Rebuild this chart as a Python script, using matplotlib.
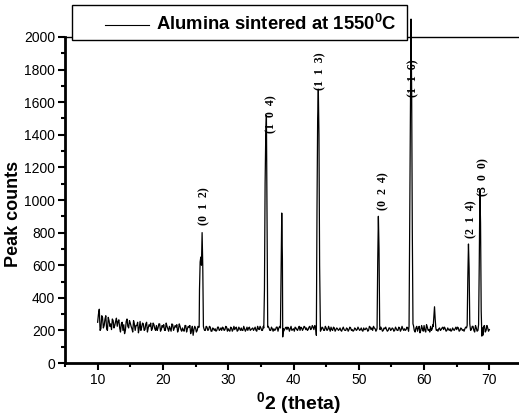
"""
XRD pattern of alumina sintered at 1550 C, redrawn from the published figure.
"""
import numpy as np
import matplotlib
matplotlib.use("Agg")
import matplotlib.pyplot as plt
from matplotlib.lines import Line2D
from matplotlib.patches import Rectangle
from matplotlib.ticker import MultipleLocator

plt.rcParams["font.family"] = ["Liberation Sans", "DejaVu Sans"]
plt.rcParams["mathtext.fontset"] = "custom"
plt.rcParams["mathtext.rm"] = "Liberation Sans"
plt.rcParams["mathtext.bf"] = "Liberation Sans:bold"

# Background counts, read every 0.25 degree from 10 to 70 (2 theta)
bg_start, bg_step = 10.0, 0.25
bg_counts = [
    250, 330, 210, 280,  230, 290, 200, 260,  240, 270, 215, 255,
    225, 265, 190, 250,  235, 200, 270, 215,  245, 210, 260, 200,
    230, 185, 255, 220,  240, 205, 250, 215,  225, 200, 245, 210,
    230, 215, 240, 205,  220, 200, 245, 210,  225, 195, 235, 215,
    220, 190, 240, 205,  215, 195, 230, 210,  220, 180, 225, 205,
    215, 200, 220, 230,  230, 215, 200, 220,  205, 220, 195, 210,
    210, 200, 220, 205,  200, 215, 205, 220,  210, 195, 215, 205,
    205, 220, 200, 210,  215, 200, 210, 205,  200, 220, 205, 215,
    210, 200, 225, 205,  215, 200, 220, 210,  205, 215, 200, 210,
    210, 205, 220, 215,  225, 210, 195, 215,  205, 215, 210, 200,
    210, 220, 205, 215,  200, 215, 210, 220,  215, 205, 225, 210,
    220, 230, 215, 205,  210, 205, 215, 200,  215, 205, 210, 220,
    200, 215, 205, 210,  205, 200, 210, 205,  200, 210, 205, 215,
    205, 200, 210, 205,  210, 205, 200, 215,  205, 210, 200, 220,
    215, 225, 210, 205,  215, 205, 210, 200,  210, 205, 200, 215,
    205, 210, 200, 210,  200, 215, 205, 210,  210, 205, 215, 220,
    220, 210, 200, 215,  195, 225, 200, 210,  230, 190, 220, 205,
    225, 210, 215, 220,  205, 210, 200, 215,  205, 210, 200, 205,
    210, 200, 205, 210,  205, 215, 200, 210,  205, 210, 215, 220,
    215, 205, 225, 190,  215, 200, 210, 220,  170, 230, 200, 215,
    205,
]
# counts half way between those points (10.125, 10.375, ...)
bg_counts_mid = [
    300, 200, 290, 215,  270, 210, 280, 225,  205, 260, 230, 275,
    255, 215, 240, 200,  180, 255, 225, 260,  225, 190, 240, 230,
    250, 215, 200, 245,  200, 240, 190, 235,  245, 210, 235, 200,
    200, 240, 195, 230,  235, 200, 225, 195,  210, 240, 200, 230,
    235, 205, 225, 195,  200, 230, 190, 225,  230, 200, 170, 225,
    190, 225, 215, 200,  215, 200, 225, 200,  225, 195, 215, 200,
    195, 220, 200, 215,  220, 200, 225, 195,  200, 220, 195, 225,
    215, 195, 220, 200,  200, 225, 195, 220,  215, 200, 210, 200,
    220, 195, 210, 225,  200, 225, 205, 220,  225, 200, 220, 195,
    200, 220, 195, 225,  200, 230, 205, 220,  220, 195, 225, 205,
    195, 215, 200, 225,  220, 200, 225, 205,  200, 220, 205, 230,
    205, 215, 200, 220,  195, 220, 200, 225,  200, 225, 195, 205,
    220, 195, 215, 200,  215, 195, 220, 200,  215, 195, 220, 200,
    195, 215, 200, 220,  200, 215, 195, 205,  215, 195, 225, 205,
    200, 215, 195, 220,  200, 220, 195, 215,  220, 195, 215, 200,
    215, 195, 220, 200,  220, 195, 225, 200,  200, 220, 195, 205,
    200, 230, 190, 225,  215, 185, 230, 195,  200, 235, 200, 190,
    200, 235, 205, 200,  195, 215, 205, 220,  220, 195, 215, 200,
    195, 215, 200, 220,  220, 195, 215, 200,  195, 220, 200, 205,
    200, 225, 200, 230,  195, 225, 200, 195,  225, 190, 230, 195,
]

# Peak profiles (2 theta, counts)
peaks = [
    ([25.55, 25.6, 25.7, 25.8, 25.9, 26.0, 26.1, 26.2],
     [220, 450, 620, 650, 600, 800, 600, 225]),
    ([35.45, 35.55, 35.65, 35.75, 35.85, 35.95, 36.05],
     [215, 450, 1100, 1400, 1520, 900, 220]),
    ([38.0, 38.1, 38.2, 38.3, 38.35, 38.45],
     [215, 600, 920, 640, 160, 210]),
    ([43.4, 43.5, 43.6, 43.7, 43.8, 43.9, 44.0, 44.1],
     [225, 170, 950, 1500, 1680, 1400, 600, 230]),
    ([52.8, 52.9, 53.0, 53.1, 53.2],
     [215, 620, 900, 700, 230]),
    ([57.7, 57.8, 57.9, 58.0, 58.1, 58.2, 58.3],
     [225, 850, 1500, 2110, 1650, 800, 240]),
    ([61.4, 61.5, 61.6, 61.7, 61.8],
     [225, 290, 345, 270, 215]),
    ([66.6, 66.7, 66.8, 66.9, 67.0],
     [230, 520, 730, 580, 240]),
    ([68.35, 68.45, 68.55, 68.65, 68.75, 68.85, 68.95],
     [235, 600, 1060, 860, 320, 165, 215]),
]

# Miller index labels: text, 2 theta, counts (centre of label)
hkl_labels = ["(0  1  2)", "(1  0  4)", "(1  1  3)", "(0  2  4)",
              "(1  1  6)", "(2  1  4)", "(3  0  0)"]
hkl_x = [26.3, 36.6, 44.1, 53.7, 58.3, 67.2, 69.0]
hkl_y = [965, 1525, 1790, 1055, 1750, 880, 1140]

# merge the background with the peak profiles
bg_x = np.concatenate([bg_start + bg_step * np.arange(len(bg_counts)),
                       bg_start + bg_step / 2 + bg_step * np.arange(len(bg_counts_mid))])
bg_y = np.array(bg_counts + bg_counts_mid, dtype=float)
keep = np.ones(len(bg_x), dtype=bool)
for px, py in peaks:
    keep &= ~((bg_x >= min(px)) & (bg_x <= max(px)))
two_theta = np.concatenate([bg_x[keep]] + [np.array(px) for px, _ in peaks])
counts = np.concatenate([bg_y[keep]] + [np.array(py, dtype=float) for _, py in peaks])
order = np.argsort(two_theta)
two_theta, counts = two_theta[order], counts[order]

W, H = 519, 419
fig = plt.figure(figsize=(W / 100, H / 100), dpi=100)
ax = fig.add_axes([65 / W, 1 - 363 / H, (522 - 65) / W, (363 - 37) / H])

ax.plot(two_theta, counts, color="black", lw=0.9, clip_on=False)

for txt, x, y in zip(hkl_labels, hkl_x, hkl_y):
    ax.text(x, y, txt, rotation=90, ha="center", va="center", fontsize=8.5,
            family=["Liberation Serif", "DejaVu Serif"], fontweight="bold")

ax.set_xlim(5, 75)
ax.set_ylim(0, 2000)
ax.xaxis.set_major_locator(MultipleLocator(10))
ax.xaxis.set_minor_locator(MultipleLocator(5))
ax.yaxis.set_major_locator(MultipleLocator(200))
ax.yaxis.set_minor_locator(MultipleLocator(100))
ax.tick_params(which="both", direction="out", width=1.5, labelsize=10, top=False, right=False)
ax.tick_params(which="major", length=5, pad=2)
ax.tick_params(which="minor", length=3)

for side in ["left", "bottom"]:
    ax.spines[side].set_linewidth(2)
ax.spines["top"].set_linewidth(1)
ax.spines["right"].set_visible(False)

ax.set_xlabel(r"$^\mathbf{0}$2 (theta)", fontsize=14, fontweight="bold")
ax.xaxis.set_label_coords((299 - 65) / 457, -(390 - 363) / 326)
ax.set_ylabel("Peak counts", fontsize=13, fontweight="bold")
ax.yaxis.set_label_coords(-(65 - 22) / 457, (363 - 214) / 326)

# legend box sits over the top edge of the frame
fig.add_artist(Rectangle((72 / W, 1 - 40 / H), (407 - 72) / W, 35 / H,
                         transform=fig.transFigure, facecolor="white",
                         edgecolor="black", lw=1, zorder=5))
fig.add_artist(Line2D([105 / W, 149 / W], [1 - 25 / H] * 2,
                      transform=fig.transFigure, color="black", lw=0.8, zorder=6))
fig.text(156 / W, 1 - 24 / H, r"Alumina sintered at 1550$^\mathbf{0}$C",
         fontsize=13.3, fontweight="bold", va="center", ha="left", zorder=6)

fig.savefig("out.png", dpi=100)
